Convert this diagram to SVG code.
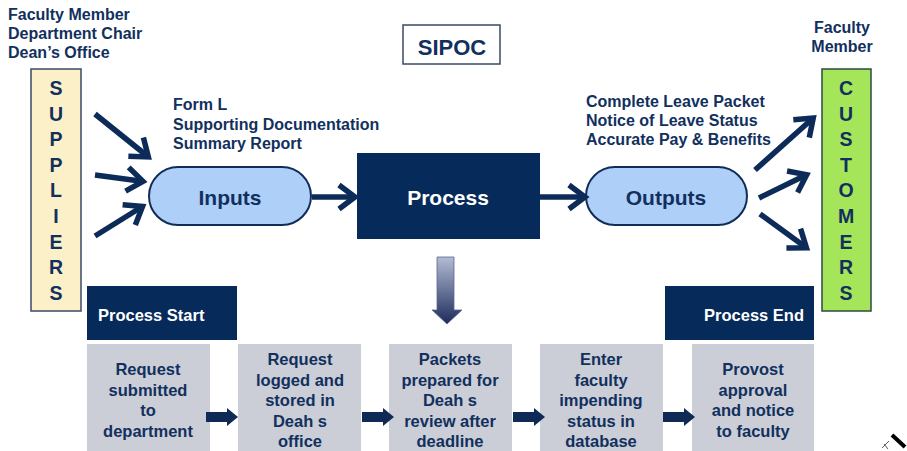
<svg xmlns="http://www.w3.org/2000/svg" width="907" height="451" viewBox="0 0 907 451">
<defs>
<style>
text{font-family:"Liberation Sans",Arial,sans-serif;font-weight:bold;fill:#12305e}
.lbl{font-size:16px}
.ttl{font-size:16.5px;fill:#ffffff}
.big{font-size:21px}
.vert{font-size:19.5px;text-anchor:middle}
.box{font-size:16.5px;text-anchor:middle}
.wt{fill:#ffffff}
.arr{fill:none;stroke:#0d2b58;stroke-width:5.5;marker-end:url(#chev)}
.pill{fill:#aed0f8;stroke:#122c58;stroke-width:2}
.navy{fill:#062a59}
.gray{fill:#cbced6}
.blk{fill:#0e2a55}
</style>
<marker id="chev" viewBox="0 0 24 30" refX="16" refY="15" markerWidth="24" markerHeight="30" markerUnits="userSpaceOnUse" orient="auto">
<path d="M3,3 L19,15 L3,27" fill="none" stroke="#0d2b58" stroke-width="5.5"/>
</marker>
<linearGradient id="dg" x1="0" y1="0" x2="0" y2="1">
<stop offset="0" stop-color="#b4bcd4"/>
<stop offset="1" stop-color="#1c2c5c"/>
</linearGradient>
</defs>
<rect width="907" height="451" fill="#ffffff"/>

<g id="supplier-labels">
<text class="lbl" x="8" y="20">Faculty Member</text>
<text class="lbl" x="8" y="39">Department Chair</text>
<text class="lbl" x="8" y="58">Dean’s Office</text>
</g>

<g id="suppliers">
<rect x="31" y="69" width="50" height="242" fill="#fbf0c8" stroke="#3a4a66" stroke-width="1.5"/>
<text class="vert" x="56" y="95">S</text>
<text class="vert" x="56" y="121">U</text>
<text class="vert" x="56" y="146">P</text>
<text class="vert" x="56" y="172">P</text>
<text class="vert" x="56" y="197">L</text>
<text class="vert" x="56" y="223">I</text>
<text class="vert" x="56" y="249">E</text>
<text class="vert" x="56" y="274">R</text>
<text class="vert" x="56" y="300">S</text>
</g>

<g id="customer-labels">
<text class="lbl" x="842" y="33" text-anchor="middle">Faculty</text>
<text class="lbl" x="842" y="52" text-anchor="middle">Member</text>
</g>

<g id="customers">
<rect x="822" y="69" width="49" height="242" fill="#a5e55a" stroke="#2c4a46" stroke-width="1.5"/>
<text class="vert" x="846" y="95">C</text>
<text class="vert" x="846" y="121">U</text>
<text class="vert" x="846" y="146">S</text>
<text class="vert" x="846" y="172">T</text>
<text class="vert" x="846" y="197">O</text>
<text class="vert" x="846" y="223">M</text>
<text class="vert" x="846" y="249">E</text>
<text class="vert" x="846" y="274">R</text>
<text class="vert" x="846" y="300">S</text>
</g>

<g id="sipoc">
<rect x="403" y="25" width="97" height="39" fill="#ffffff" stroke="#3a4a66" stroke-width="1.5"/>
<text x="452" y="55" font-size="22" text-anchor="middle">SIPOC</text>
</g>

<g id="input-list">
<text class="lbl" x="173" y="110">Form L</text>
<text class="lbl" x="173" y="130">Supporting Documentation</text>
<text class="lbl" x="173" y="149">Summary Report</text>
</g>

<g id="inputs">
<rect class="pill" x="149" y="167" width="162" height="58" rx="29"/>
<text class="big" x="230" y="205" text-anchor="middle">Inputs</text>
</g>

<g id="process">
<rect class="navy" x="357" y="153" width="183" height="86"/>
<text class="big wt" x="448" y="205" text-anchor="middle">Process</text>
</g>

<g id="output-list">
<text class="lbl" x="586" y="107">Complete Leave Packet</text>
<text class="lbl" x="586" y="126">Notice of Leave Status</text>
<text class="lbl" x="586" y="145">Accurate Pay &amp; Benefits</text>
</g>

<g id="outputs">
<rect class="pill" x="586" y="167" width="161" height="58" rx="29"/>
<text class="big" x="666" y="205" text-anchor="middle">Outputs</text>
</g>

<g id="process-start">
<rect class="navy" x="87" y="286" width="150" height="54"/>
<text class="ttl" x="98" y="321">Process Start</text>
</g>

<g id="process-end">
<rect class="navy" x="665" y="286" width="149" height="54"/>
<text class="ttl" x="804" y="321" text-anchor="end">Process End</text>
</g>

<g id="step1">
<rect class="gray" x="87" y="344" width="123" height="120"/>
<text class="box" x="148" y="375">Request</text>
<text class="box" x="148" y="396">submitted</text>
<text class="box" x="148" y="416">to</text>
<text class="box" x="148" y="437">department</text>
</g>

<g id="step2">
<rect class="gray" x="238" y="344" width="123" height="120"/>
<text class="box" x="300" y="365">Request</text>
<text class="box" x="300" y="386">logged and</text>
<text class="box" x="300" y="406">stored in</text>
<text class="box" x="300" y="427">Deah s</text>
<text class="box" x="300" y="447">office</text>
</g>

<g id="step3">
<rect class="gray" x="389" y="344" width="123" height="120"/>
<text class="box" x="450" y="365">Packets</text>
<text class="box" x="450" y="386">prepared for</text>
<text class="box" x="450" y="406">Deah s</text>
<text class="box" x="450" y="427">review after</text>
<text class="box" x="450" y="447">deadline</text>
</g>

<g id="step4">
<rect class="gray" x="540" y="344" width="123" height="120"/>
<text class="box" x="601" y="365">Enter</text>
<text class="box" x="601" y="386">faculty</text>
<text class="box" x="601" y="406">impending</text>
<text class="box" x="601" y="427">status in</text>
<text class="box" x="601" y="447">database</text>
</g>

<g id="step5">
<rect class="gray" x="692" y="344" width="122" height="120"/>
<text class="box" x="753" y="375">Provost</text>
<text class="box" x="753" y="396">approval</text>
<text class="box" x="753" y="416">and notice</text>
<text class="box" x="753" y="437">to faculty</text>
</g>

<g id="connectors">
<line class="arr" x1="95" y1="114" x2="146" y2="155"/>
<line class="arr" x1="95" y1="175" x2="140" y2="181"/>
<line class="arr" x1="95" y1="236" x2="140" y2="208"/>
<line class="arr" x1="312" y1="197" x2="352" y2="197"/>
<line class="arr" x1="540" y1="197" x2="582" y2="197"/>
<line class="arr" x1="755" y1="170" x2="811" y2="120"/>
<line class="arr" x1="759" y1="198" x2="804" y2="176"/>
<line class="arr" x1="760" y1="214" x2="804" y2="246"/>
<path d="M437,257 H454 V310 H462 L447,324 L432,310 H437 Z" fill="url(#dg)" stroke="#5a6790" stroke-width="0.8"/>
<path class="blk" d="M206,412 H227 V408 L238,417 L227,426 V422 H206 Z"/>
<path class="blk" d="M362,412 H383 V408 L394,417 L383,426 V422 H362 Z"/>
<path class="blk" d="M513,412 H534 V408 L545,417 L534,426 V422 H513 Z"/>
<path class="blk" d="M663,412 H684 V408 L695,417 L684,426 V422 H663 Z"/>
</g>

<g id="pen-mark">
<line x1="892" y1="435" x2="905" y2="447" stroke="#000000" stroke-width="4"/>
<path d="M889,441 L882,448 M884,444 L888,449" stroke="#333333" stroke-width="0.8" fill="none"/>
</g>
</svg>
